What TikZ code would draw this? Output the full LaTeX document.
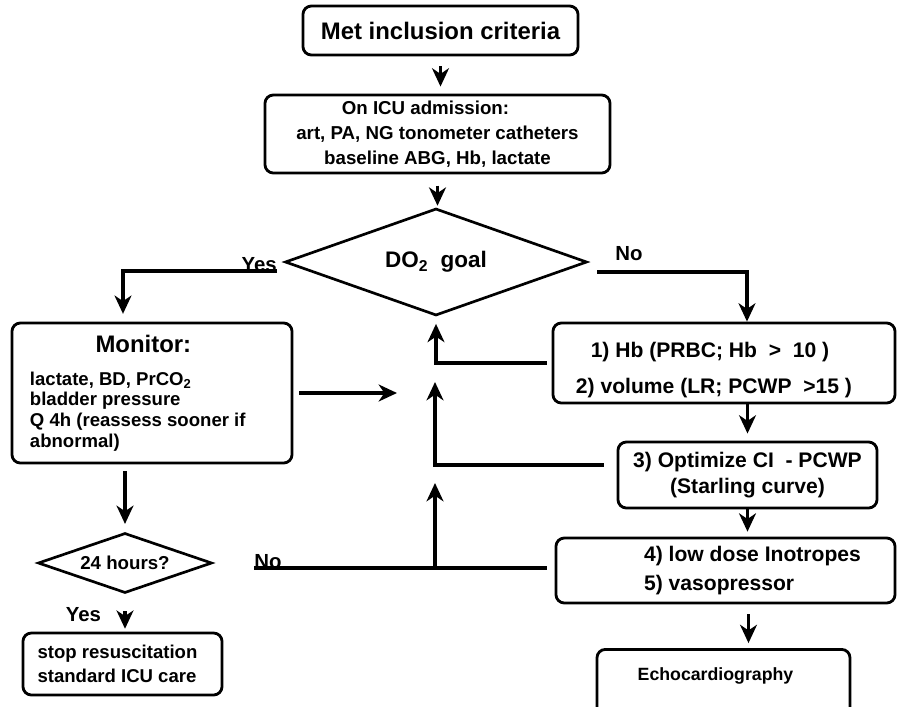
\documentclass[tikz,border=0pt]{standalone}
\usepackage{fontspec}
\setmainfont{Liberation Sans}
\usepackage{tikz}
\usetikzlibrary{shapes.geometric, arrows.meta, positioning, calc}

\newcommand{\fsz}[2]{\fontsize{#1}{#2}\selectfont}

\begin{document}
\begin{tikzpicture}[x=0.025cm, y=-0.025cm,
    every node/.style={font=\bfseries},
    box/.style={draw, rounded corners=6pt, line width=2pt, inner sep=0pt, align=center},
    decision/.style={draw, diamond, line width=1.9pt, inner sep=0pt},
    arr/.style={line width=2.5pt, -{Stealth[length=13pt, width=12pt, inset=4pt]}},
    link/.style={line width=2.5pt},
    lbl/.style={inner sep=0pt, font=\bfseries\fsz{14.5}{16}}
]
\clip (0,0) rectangle (897,706);

% boxes
\node[box, minimum width=6.875cm, minimum height=1.225cm, font=\bfseries\fsz{17}{20}] (crit) at (440.5,30.5) {Met inclusion criteria};
\node[box, minimum width=8.625cm, minimum height=1.95cm, font=\bfseries\fsz{13.3}{17.7}] (icu) at (437.5,134)
    {\hspace*{-0.6cm}On ICU admission:\\ art, PA, NG tonometer catheters\\ baseline ABG, Hb, lactate};
\node[decision, shape aspect=2.8, minimum width=7.55cm, minimum height=2.675cm, font=\bfseries\fsz{16}{19}] (goal) at (436,262) {DO\textsubscript{2}~ goal};
\node[box, minimum width=7cm, minimum height=3.5cm, align=left, font=\bfseries\fsz{13.2}{14.8}] (mon) at (152,393)
    {{\fsz{17}{20}\hspace*{1.64cm}Monitor:}\\[8.7pt]
     lactate, BD, PrCO\textsubscript{2}\\ bladder pressure\\ \makebox[6.1cm][l]{Q 4h (reassess sooner if}\\ abnormal)};
\node[box, minimum width=8.55cm, minimum height=2cm, font=\bfseries\fsz{15}{26}] (hb) at (724,363)
    {\rule{0pt}{21pt}1) Hb (PRBC; Hb~ >~ 10 )\hspace*{0.7cm}\\ 2) volume (LR; PCWP~ >15 )\hspace*{0.5cm}};
\node[box, minimum width=6.475cm, minimum height=1.65cm, font=\bfseries\fsz{15}{19}] (opt) at (747.5,475)
    {3) Optimize CI~ - PCWP\\ (Starling curve)};
\node[box, minimum width=8.475cm, minimum height=1.625cm, align=left, font=\bfseries\fsz{15}{20.6}] (ino) at (725.5,570.5)
    {\hspace*{1.35cm}4) low dose Inotropes\\ \hspace*{1.35cm}5) vasopressor};
\node[box, minimum width=6.325cm, text height=0.775cm, text depth=1.2cm, anchor=north, font=\bfseries\fsz{12.6}{15}] (echo) at (723.5,648)
    {Echocardiography\hspace*{0.4cm}};
\node[decision, shape aspect=2.9, minimum width=4.35cm, minimum height=1.5cm, font=\bfseries\fsz{13.3}{16}] (hrs) at (125,563) {24 hours?};
\node[box, minimum width=4.975cm, minimum height=1.55cm, align=left, font=\bfseries\fsz{13.2}{17}] (stop) at (122.5,664)
    {stop resuscitation\hspace*{0.25cm}\\ standard ICU care};

% labels and free ends
\node[lbl, anchor=base east] (yes1) at (277,271) {Yes};
\node[lbl, anchor=base west] (no1) at (615,260) {No};
\node[lbl, anchor=base west] (no2) at (254,568) {No};
\node[lbl] (yes2) at (83.5,615) {Yes};
\coordinate (nostart) at (597,272);
\coordinate (monend) at (397,396);
\coordinate (optend) at (435,382);
\coordinate (inoend) at (435,483);

% connectors
\draw[arr, shorten <=7pt, shorten >=5pt] (crit.south) -- (crit.south |- icu.north);
\draw[arr, shorten <=8pt, shorten >=1pt] (icu.south) -- (icu.south |- goal.north);
\draw[arr, shorten >=5.5pt] (yes1.base east) -| ($(mon.north)+(-29,0)$);
\draw[arr] (nostart) -| ($(hb.north)+(23,0)$);
\draw[arr, shorten <=3.5pt, shorten >=5pt] (hb.west) -| (goal.south);
\draw[arr, shorten <=4pt] (mon.east) -- (mon.east -| monend);
\draw[arr, shorten <=9pt] ($(opt.west)+(0,-10)$) -| (optend);
\draw[link, shorten >=5.5pt] (no2.base west) -- (no2.base west -| ino.west);
\draw[arr] (no2.base west -| inoend) -- (inoend);
\draw[arr, shorten <=5pt, shorten >=5.5pt] (mon.south -| hrs.north) -- (hrs.north);
\draw[arr, shorten <=12pt, shorten >=2pt] (hrs.south) -- (hrs.south |- stop.north);
\draw[arr, shorten >=5pt] (opt.north |- hb.south) -- (opt.north);
\draw[arr, shorten >=3.5pt] (opt.south) -- (opt.south |- ino.north);
\draw[arr, shorten <=7pt, shorten >=3.5pt] ($(ino.south)+(23,0)$) -- ($(echo.north)+(25,0)$);
\end{tikzpicture}
\end{document}
